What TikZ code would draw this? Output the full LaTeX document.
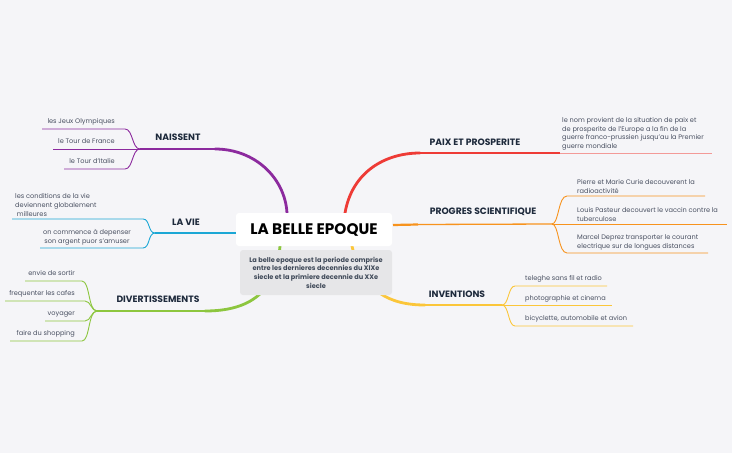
\documentclass[tikz,border=0pt]{standalone}
\usepackage{fontspec}
\setmainfont{Poppins}
\definecolor{bg}{HTML}{F5F5F8}
\definecolor{labtext}{HTML}{1E2A3C}
\definecolor{subtext}{HTML}{4A5162}
\definecolor{cpurple}{HTML}{8C2A9E}
\definecolor{ccyan}{HTML}{1BA7D5}
\definecolor{cgreen}{HTML}{8DC63F}
\definecolor{cred}{HTML}{EE3B36}
\definecolor{cpink}{HTML}{F39A98}
\definecolor{corange}{HTML}{F7931E}
\definecolor{cyellow}{HTML}{FBC63A}
\definecolor{descfill}{HTML}{E6E6E8}
\begin{document}
\begin{tikzpicture}[x=1pt,y=-1pt,
  sub/.style={font=\fontsize{6.6}{8.7}\selectfont, text=subtext, inner sep=0pt},
  lab/.style={font=\fontsize{9.2}{10}\selectfont\bfseries, text=labtext, inner sep=0pt},
  mainthick/.style={line width=2.8pt, line cap=round},
  mainthin/.style={line width=1.3pt},
  subline/.style={line width=0.9pt},
]
\useasboundingbox (0,0) rectangle (732,453);
\fill[bg] (0,0) rectangle (732,453);

% junction coordinates
\coordinate (jN) at (140,149);
\coordinate (jV) at (155,233);
\coordinate (jD) at (97,311);
\coordinate (jP) at (552,224);
\coordinate (jI) at (502,305);

% ---------- main branches ----------
% NAISSENT
\coordinate (cN) at (287,213);
\coordinate (hN) at (215,149);
\draw[cpurple,mainthick] (cN) .. controls (285,178) and (255,149) .. (hN);
\draw[cpurple,mainthin] (hN) -- (jN);
% LA VIE
\coordinate (cV) at (237,233);
\coordinate (hV) at (205,233);
\draw[ccyan,line width=2.2pt] (cV) -- (hV);
\draw[ccyan,mainthin] (hV) -- (jV);
% DIVERTISSEMENTS
\coordinate (cD) at (280,246);
\coordinate (hD) at (205,311);
\draw[cgreen,mainthick] (cD) .. controls (276,292) and (250,311) .. (hD);
\draw[cgreen,mainthin] (hD) -- (jD);
% PAIX
\coordinate (cP) at (345,213);
\coordinate (hP) at (420,153);
\coordinate (eP) at (560,153);
\coordinate (fP) at (712,153);
\draw[cred,mainthick] (cP) .. controls (352,172) and (385,153) .. (hP);
\draw[cred,mainthin] (hP) -- (eP);
\draw[cpink,subline] (eP) -- (fP);
% PROGRES
\coordinate (cS) at (393,225);
\coordinate (hS) at (418,224.5);
\draw[corange,line width=2.2pt] (cS) -- (hS);
\draw[corange,mainthin] (hS) -- (jP);
% INVENTIONS
\coordinate (cI) at (352,246);
\coordinate (hI) at (425,305);
\draw[cyellow,mainthick] (cI) .. controls (362,292) and (390,305) .. (hI);
\draw[cyellow,mainthin] (hI) -- (jI);

% ---------- center ----------
\node[fill=white, rounded corners=3pt, minimum width=156pt, minimum height=33pt, inner sep=0pt,
      font=\fontsize{15.3}{17}\selectfont\bfseries, text=black] (title) at (314,229.5) {LA BELLE EPOQUE};
\node[fill=descfill, rounded corners=3pt, minimum width=152pt, minimum height=45pt, inner sep=0pt, align=center,
      font=\fontsize{6.6}{8.7}\selectfont\bfseries, text=labtext!85] (desc) at (316,272.5)
  {La belle epoque est la periode comprise\\entre les dernieres decennies du XIXe\\siecle et la primiere decennie du XXe\\siecle};

% ---------- labels ----------
\node[lab] (lN) at (178,137) {NAISSENT};
\node[lab] (lV) at (186,222) {LA VIE};
\node[lab] (lD) at (158,299) {DIVERTISSEMENTS};
\node[lab] (lP) at (475,142) {PAIX ET PROSPERITE};
\node[lab] (lS) at (483,212) {PROGRES SCIENTIFIQUE};
\node[lab] (lI) at (457,294) {INVENTIONS};

% ---------- NAISSENT subs ----------
\node[sub, anchor=base east] (n1) at (115,123.5) {les Jeux Olympiques};
\node[sub, anchor=base east] (n2) at (115,143.5) {le Tour de France};
\node[sub, anchor=base east] (n3) at (115,163.5) {le Tour d'Italie};
\coordinate (n1a) at (42,129); \coordinate (n1b) at (125,129);
\coordinate (n2a) at (53,149);
\coordinate (n3a) at (64,169); \coordinate (n3b) at (125,169);
\draw[cpurple,subline] (n1a) -- (n1b) .. controls (133,129) and (132,149) .. (jN);
\draw[cpurple,subline] (n2a) -- (jN);
\draw[cpurple,subline] (n3a) -- (n3b) .. controls (133,169) and (132,149) .. (jN);

% ---------- LA VIE subs ----------
\node[sub, anchor=south west, align=left] (v1) at (15,216.5) {les conditions de la vie\\deviennent globalement\\\ milleures};
\node[sub, anchor=south, align=center] (v2) at (87,245.5) {on commence à depenser\\son argent puor s'amuser};
\coordinate (v1a) at (12,219); \coordinate (v1b) at (143,219);
\coordinate (v2a) at (40,248); \coordinate (v2b) at (143,248);
\draw[ccyan,subline] (v1a) -- (v1b) .. controls (150,219) and (148,233) .. (jV);
\draw[ccyan,subline] (v2a) -- (v2b) .. controls (150,248) and (148,233) .. (jV);

% ---------- DIVERTISSEMENTS subs ----------
\node[sub, anchor=base east] (d1) at (75,275.5) {envie de sortir};
\node[sub, anchor=base east] (d2) at (75,295.5) {frequenter les cafes};
\node[sub, anchor=base east] (d3) at (75,315.5) {voyager};
\node[sub, anchor=base east] (d4) at (75,335.5) {faire du shopping};
\coordinate (d1a) at (25,281); \coordinate (d1b) at (82,281);
\coordinate (d2a) at (5,301);  \coordinate (d2b) at (85,301);
\coordinate (d3a) at (45,321); \coordinate (d3b) at (85,321);
\coordinate (d4a) at (10,341); \coordinate (d4b) at (82,341);
\draw[cgreen,subline] (d1a) -- (d1b) .. controls (90,281) and (88,311) .. (jD);
\draw[cgreen,subline] (d2a) -- (d2b) .. controls (91,301) and (91,311) .. (jD);
\draw[cgreen,subline] (d3a) -- (d3b) .. controls (91,321) and (91,311) .. (jD);
\draw[cgreen,subline] (d4a) -- (d4b) .. controls (90,341) and (88,311) .. (jD);

% ---------- PAIX sub ----------
\node[sub, anchor=south west, align=left] (p1) at (562,150.5)
  {le nom provient de la situation de paix et\\de prosperite de l'Europe a la fin de la\\guerre franco-prussien jusqu'au la Premier\\guerre mondiale};

% ---------- PROGRES subs ----------
\node[sub, anchor=south west, align=left] (s1) at (577,193.5) {Pierre et Marie Curie decouverent la\\radioactivité};
\node[sub, anchor=south west, align=left] (s2) at (577,221.5) {Louis Pasteur decouvert le vaccin contre la\\tuberculose};
\node[sub, anchor=south west, align=left] (s3) at (577,250.5) {Marcel Deprez transporter le courant\\electrique sur de longues distances};
\coordinate (s1a) at (567,196); \coordinate (s1b) at (705,196);
\coordinate (s2b) at (727,224);
\coordinate (s3a) at (567,253); \coordinate (s3b) at (708,253);
\draw[corange,subline] (jP) .. controls (559,224) and (558,196) .. (s1a) -- (s1b);
\draw[corange,subline] (jP) -- (s2b);
\draw[corange,subline] (jP) .. controls (559,224) and (558,253) .. (s3a) -- (s3b);

% ---------- INVENTIONS subs ----------
\node[sub, anchor=base west] (i1) at (525,280.5) {teleghe sans fil et radio};
\node[sub, anchor=base west] (i2) at (525,300) {photographie et cinema};
\node[sub, anchor=base west] (i3) at (525,320.5) {bicyclette, automobile et avion};
\coordinate (i1a) at (515,286); \coordinate (i1b) at (607,286);
\coordinate (i2b) at (612,305);
\coordinate (i3a) at (515,326); \coordinate (i3b) at (633,326);
\draw[cyellow,subline] (jI) .. controls (509,305) and (508,286) .. (i1a) -- (i1b);
\draw[cyellow,subline] (jI) -- (i2b);
\draw[cyellow,subline] (jI) .. controls (509,305) and (508,326) .. (i3a) -- (i3b);
\end{tikzpicture}
\end{document}
